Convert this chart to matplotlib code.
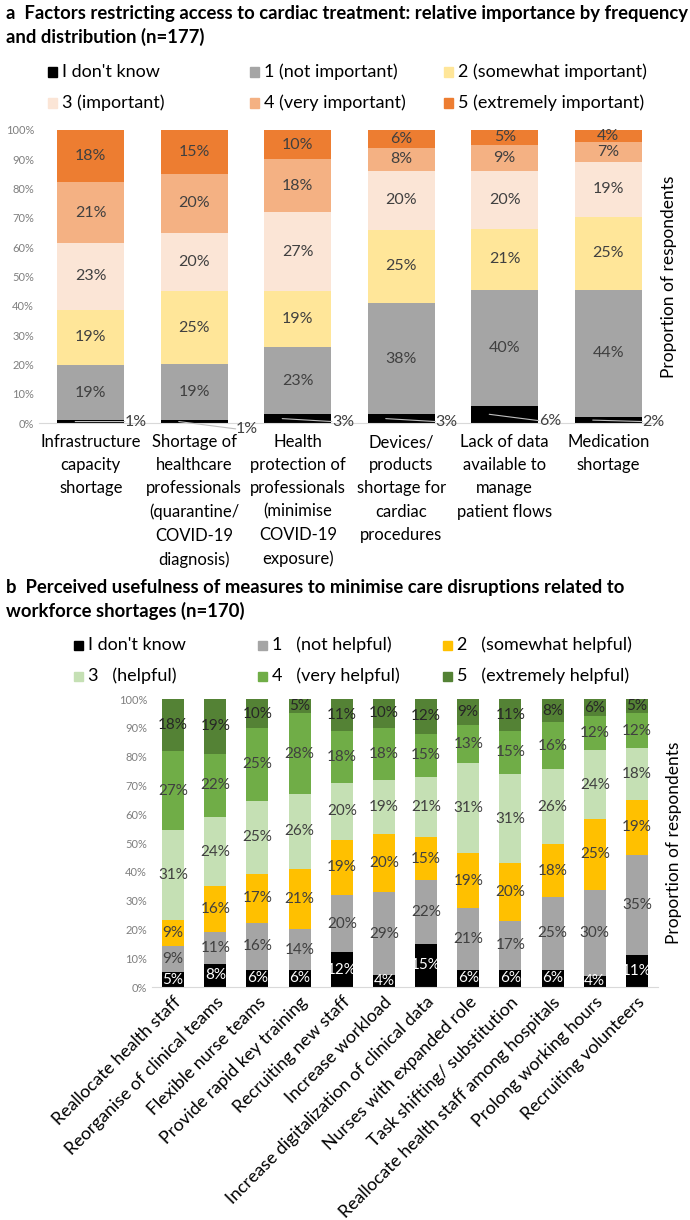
import matplotlib.pyplot as plt
from matplotlib.patches import Rectangle
import numpy as np

plt.rcParams['font.family'] = ['Lato', 'DejaVu Sans']

# ---- panel a data ----
a_cats = ['Infrastructure\ncapacity\nshortage',
          'Shortage of\nhealthcare\nprofessionals\n(quarantine/\nCOVID-19\ndiagnosis)',
          'Health\nprotection of\nprofessionals\n(minimise\nCOVID-19\nexposure)',
          'Devices/\nproducts\nshortage for\ncardiac\nprocedures',
          'Lack of data\navailable to\nmanage\npatient flows',
          'Medication\nshortage']
a_levels = ["I don't know", '1 (not important)', '2 (somewhat important)',
            '3 (important)', '4 (very important)', '5 (extremely important)']
a_idk = [1, 1, 3, 3, 6, 2]
a_1 = [19, 19, 23, 38, 40, 44]
a_2 = [19, 25, 19, 25, 21, 25]
a_3 = [23, 20, 27, 20, 20, 19]
a_4 = [21, 20, 18, 8, 9, 7]
a_5 = [18, 15, 10, 6, 5, 4]
a_colors = ['#000000', '#A5A5A5', '#FFE699', '#FBE5D6', '#F4B183', '#ED7D31']

# ---- panel b data ----
b_cats = ['Reallocate health staff', 'Reorganise of clinical teams',
          'Flexible nurse teams', 'Provide rapid key training',
          'Recruiting new staff', 'Increase workload',
          'Increase digitalization of clinical data', 'Nurses with expanded role',
          'Task shifting/ substitution', 'Reallocate health staff among hospitals',
          'Prolong working hours', 'Recruiting volunteers']
b_levels = ["I don't know", '1   (not helpful)', '2   (somewhat helpful)',
            '3   (helpful)', '4   (very helpful)', '5   (extremely helpful)']
b_idk = [5, 8, 6, 6, 12, 4, 15, 6, 6, 6, 4, 11]
b_1 = [9, 11, 16, 14, 20, 29, 22, 21, 17, 25, 30, 35]
b_2 = [9, 16, 17, 21, 19, 20, 15, 19, 20, 18, 25, 19]
b_3 = [31, 24, 25, 26, 20, 19, 21, 31, 31, 26, 24, 18]
b_4 = [27, 22, 25, 28, 18, 18, 15, 13, 15, 16, 12, 12]
b_5 = [18, 19, 10, 5, 11, 10, 12, 9, 11, 8, 6, 5]
b_colors = ['#000000', '#A5A5A5', '#FFC000', '#C5E0B4', '#70AD47', '#548235']

fig = plt.figure(figsize=(6.9, 12.2), dpi=100)


def stacked(ax, series, colors, width, lab_colors, fs, skip_first=False):
    data = np.array(series, dtype=float)
    tot = data.sum(axis=0)
    x = np.arange(data.shape[1])
    bottom = np.zeros(data.shape[1])
    for k, (vals, c) in enumerate(zip(data, colors)):
        h = vals / tot
        ax.bar(x, h, width, bottom=bottom, color=c, linewidth=0)
        if not (skip_first and k == 0):
            for xi, b0, hi, v in zip(x, bottom, h, vals):
                ax.text(xi, b0 + hi / 2, f'{int(v)}%', ha='center', va='center',
                        fontsize=fs, color=lab_colors[k])
        bottom += h
    return x, data, tot


def style(ax, n):
    ax.set_xlim(-0.5, n - 0.5)
    ax.set_ylim(0, 1)
    ticks = np.arange(0, 1.01, 0.1)
    ax.set_yticks(ticks)
    ax.set_yticklabels([f'{int(round(t * 100))}%' for t in ticks],
                       fontsize=8, color='#7F7F7F')
    for s in ['top', 'right', 'left']:
        ax.spines[s].set_visible(False)
    ax.spines['bottom'].set_color('#D9D9D9')
    ax.tick_params(axis='both', length=0)
    ax.yaxis.set_label_position('right')


def legend(labels, colors, xs, ys):
    for i, (lab, c) in enumerate(zip(labels, colors)):
        px = xs[i % 3] / 690
        py = 1 - ys[i // 3] / 1220
        fig.patches.append(Rectangle((px - 14 / 690, py - 4.5 / 1220), 9 / 690, 9 / 1220,
                                     transform=fig.transFigure, color=c))
        fig.text(px, py, lab, fontsize=13, va='center', ha='left')


# ---- panel a ----
fig.text(0.008, 1 - 5 / 1220,
         'a  Factors restricting access to cardiac treatment: relative importance by frequency\nand distribution (n=177)',
         fontsize=13.3, fontweight='bold', va='top', ha='left', linespacing=1.4)
legend(a_levels, a_colors, [62, 264, 458], [72, 103])

axa = fig.add_axes([39 / 690, 1 - 423 / 1220, 621 / 690, 293 / 1220])
x, data, tot = stacked(axa, [a_idk, a_1, a_2, a_3, a_4, a_5], a_colors, 0.65,
                       ['w'] + ['#404040'] * 5, 11.5, skip_first=True)
style(axa, len(a_cats))
axa.set_ylabel('Proportion of respondents', fontsize=12.5, labelpad=1)
axa.set_xticks(x)
axa.set_xticklabels(a_cats, fontsize=12, linespacing=1.55)
axa.tick_params(axis='x', pad=8)
# label positions for the "I don't know" shares (outside the bars, with leader lines)
lab_y = [0.005, -0.02, 0.005, 0.005, 0.008, 0.005]
lab_dx = [0.33, 0.40, 0.33, 0.33, 0.33, 0.33]
for xi, v, t, ly, dx in zip(x, a_idk, tot, lab_y, lab_dx):
    yv = v / t / 2
    axa.text(xi + dx, ly, f'{v}%', fontsize=11.5, color='#404040',
             ha='left', va='center', clip_on=False)
    axa.annotate('', xy=(xi - 0.15, yv), xytext=(xi + dx, ly),
                 arrowprops=dict(arrowstyle='-', color='#BFBFBF', lw=0.8,
                                 shrinkA=0, shrinkB=0),
                 annotation_clip=False)

# ---- panel b ----
fig.text(0.008, 1 - 579 / 1220,
         'b  Perceived usefulness of measures to minimise care disruptions related to\nworkforce shortages (n=170)',
         fontsize=13.3, fontweight='bold', va='top', ha='left', linespacing=1.4)
legend(b_levels, b_colors, [88, 272, 457], [645, 676])

axb = fig.add_axes([152 / 690, 1 - 987 / 1220, 506 / 690, 288 / 1220])
x, data, tot = stacked(axb, [b_idk, b_1, b_2, b_3, b_4, b_5], b_colors, 0.52,
                       ['w', '#404040', '#404040', '#404040', '#404040', '#262626'], 11)
style(axb, len(b_cats))
axb.set_ylabel('Proportion of respondents', fontsize=12.5, labelpad=6)
axb.set_xticks(x)
axb.set_xticklabels(b_cats, fontsize=12.8, rotation=45, ha='right', va='top',
                    rotation_mode='anchor')
axb.tick_params(axis='x', pad=5)

fig.savefig('out.png', dpi=100)
